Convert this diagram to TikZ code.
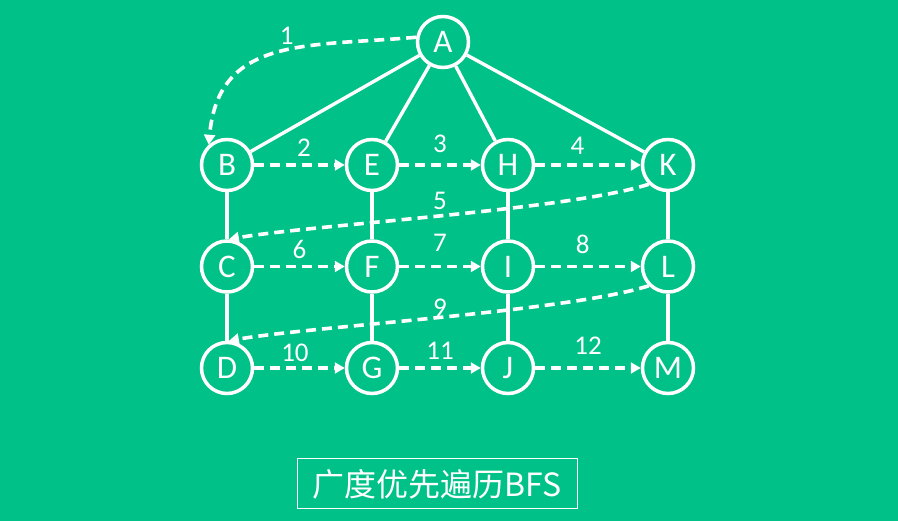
\documentclass[tikz,border=0pt]{standalone}
\usepackage{fontspec}
\setmainfont{Carlito}
\newfontfamily\cjk{Noto Sans CJK SC}
\usetikzlibrary{automata, positioning, arrows.meta}
\definecolor{bfsgreen}{RGB}{0,193,135}
\tikzset{
x=1pt, y=1pt,
node distance=101.5pt, % distance between two rows
every state/.style={draw=white, line width=3.5pt, minimum size=51pt, inner sep=0pt, text=white, font=\fontsize{33}{33}\selectfont}, % the vertices
link/.style={draw=white, line width=3.4pt}, % the tree edges
visit/.style={draw=white, line width=3.6pt, dash pattern=on 10pt off 6pt, every edge/.append style={-{Triangle[length=10pt,width=11pt,color=white,fill=white]}}}, % the visiting order, tips only on the edges
num/.style={text=white, font=\fontsize{27}{27}\selectfont, inner sep=2pt},
}

\begin{document}
\begin{tikzpicture}
                \fill[bfsgreen] (0,0) rectangle (898,-521);
                \node[state] (A) at (443,-42) {A};
                \node[state] (B) at (227,-165) {B};
                \node[state] (E) at (372,-165) {E};
                \node[state] (H) at (508,-165) {H};
                \node[state] (K) at (668,-165) {K};
                \node[state, below of=B] (C) {C};
                \node[state, below of=E] (F) {F};
                \node[state, below of=H] (I) {I};
                \node[state, below of=K] (L) {L};
                \node[state, below of=C] (D) {D};
                \node[state, below of=F] (G) {G};
                \node[state, below of=I] (J) {J};
                \node[state, below of=L] (M) {M};
                \draw[link]
                    (A) edge (B) edge (E) edge (H) edge (K)
                    (B) edge (C) (C) edge (D)
                    (E) edge (F) (F) edge (G)
                    (H) edge (I) (I) edge (J)
                    (K) edge (L) (L) edge (M)
                    ;
                \draw[visit]
                    (A.170) edge[out=185, in=85, looseness=1.2] node[num, pos=0.45, above=2pt]{1} (B.132)
                    (B) edge node[num, pos=0.55, above=5pt]{2} (E)
                    (E) edge node[num, above=9pt]{3} (H)
                    (H) edge node[num, pos=0.4, above=7pt]{4} (K)
                    (K.225) edge[out=198, in=10, looseness=0.5] node[num, above=3pt]{5} (C.86)
                    (C) edge node[num, above=4pt]{6} (F)
                    (F) edge node[num, above=11pt]{7} (I)
                    (I) edge node[num, pos=0.45, above=9pt]{8} (L)
                    (L.225) edge[out=198, in=10, looseness=0.5] node[num, above=-3pt]{9} (D.86)
                    (D) edge node[num, pos=0.45, above=3pt]{10} (G)
                    (G) edge node[num, above=5pt]{11} (J)
                    (J) edge node[num, above=10pt]{12} (M)
                    ;
                \node[draw=white, line width=1pt, minimum width=280pt, minimum height=50pt, text=white, font=\cjk\fontsize{32}{32}\selectfont] (title) at (437,-484) {广度优先遍历BFS};
                \end{tikzpicture}
\end{document}
